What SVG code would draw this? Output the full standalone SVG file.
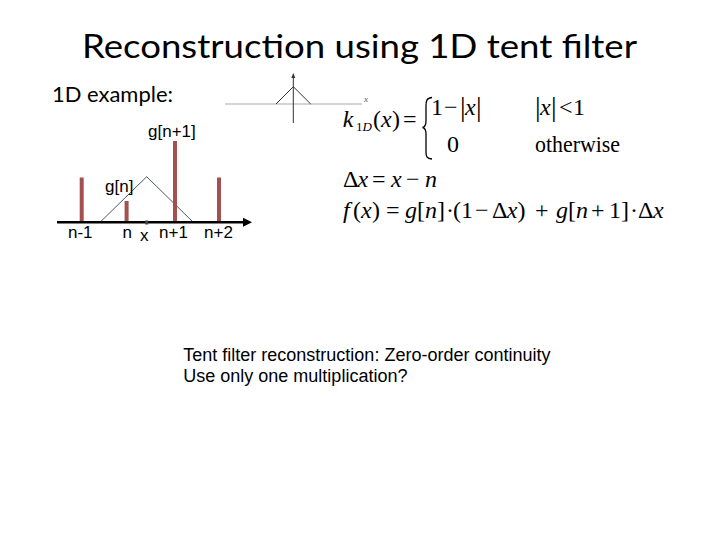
<svg xmlns="http://www.w3.org/2000/svg" width="720" height="540" viewBox="0 0 720 540">
<style>
.title{font-family:Lato,"Open Sans","Liberation Sans",sans-serif;fill:#000}
.lab{font-family:"Liberation Sans",Arial,sans-serif;font-size:17px;fill:#000}
.body{font-family:"Liberation Sans",Arial,sans-serif;font-size:18px;fill:#000}
.eq{font-family:"Liberation Serif","Times New Roman",serif;font-size:24px;fill:#000}
.it{font-style:italic}
.bar{fill:#a3504f}
.tent{fill:none;stroke:#4d5a63;stroke-width:1}
.abs{font-size:28px}
</style>
<rect width="720" height="540" fill="#fff"/>
<g id="title">
<text class="title" x="82" y="58" font-size="32" textLength="555" lengthAdjust="spacingAndGlyphs">Reconstruction using 1D tent filter</text>
</g>
<g id="subtitle">
<text class="title" x="52" y="102" font-size="21" textLength="121" lengthAdjust="spacingAndGlyphs">1D example:</text>
</g>
<g id="kernel-plot">
<line x1="225" y1="104" x2="362" y2="104" stroke="#a8a8a8" stroke-width="1"/>
<line x1="293.3" y1="76" x2="293.3" y2="123" stroke="#333" stroke-width="1"/>
<polygon points="291.3,78 293.3,73 295.3,78" fill="#333"/>
<polyline points="276,104 293.3,86.7 310.7,104" fill="none" stroke="#333" stroke-width="1"/>
<text x="364" y="102" font-family="Liberation Serif,serif" font-style="italic" font-size="9" fill="#555">x</text>
</g>
<g id="samples-plot">
<g id="tent"><polyline class="tent" points="100,222.3 146.7,176.7 193.3,222.3"/></g>
<g id="bar-n-1"><rect class="bar" x="79.7" y="177.5" width="4" height="44.8"/></g>
<g id="bar-n"><rect class="bar" x="124.6" y="201" width="4" height="21.3"/></g>
<g id="bar-n1"><rect class="bar" x="173" y="141" width="4" height="81.3"/></g>
<g id="bar-n2"><rect class="bar" x="217" y="177.5" width="4" height="44.8"/></g>
<g id="axis">
<line x1="57" y1="222.3" x2="245" y2="222.3" stroke="#000" stroke-width="2.5"/>
<polygon points="243,217.8 252,222.3 243,226.8" fill="#000"/>
<rect x="145.2" y="220.5" width="3" height="4" fill="#444"/>
</g>
<text class="lab" x="148" y="137">g[n+1]</text>
<text class="lab" x="105" y="191.7">g[n]</text>
<text class="lab" x="68" y="238.3">n-1</text>
<text class="lab" x="122.5" y="238.3">n</text>
<text class="lab" x="140" y="240.7">x</text>
<text class="lab" x="159" y="238.3">n+1</text>
<text class="lab" x="204" y="238.3">n+2</text>
</g>
<g id="equation-kernel">
<text class="eq"><tspan class="it" x="342.7" y="126.7">k</tspan><tspan x="356" y="131" font-size="13">1</tspan><tspan class="it" x="362.5" y="131" font-size="13">D</tspan><tspan x="373" y="126.7">(</tspan><tspan class="it" x="381" y="126.7">x</tspan><tspan x="392" y="126.7">)</tspan><tspan x="403" y="126.7">=</tspan></text>
<path d="M432,97.5 C426.5,98 426,101 426,106 L426,121 C426,125 425,127 422.5,127.5 C425,128 426,130 426,134 L426,152 C426,156 426.5,158.5 432,159" fill="none" stroke="#000" stroke-width="1.3"/>
<text class="eq"><tspan x="431" y="115">1</tspan><tspan x="444" y="115">−</tspan><tspan class="abs" x="460" y="116">|</tspan><tspan class="it" x="465" y="115">x</tspan><tspan class="abs" x="476" y="116">|</tspan></text>
<text class="eq"><tspan class="abs" x="535" y="116">|</tspan><tspan class="it" x="540" y="115">x</tspan><tspan class="abs" x="551" y="116">|</tspan><tspan x="559" y="115">&lt;</tspan><tspan x="573" y="115">1</tspan></text>
<text class="eq" x="447" y="151.7">0</text>
<text class="eq" x="535" y="151.7" textLength="85" lengthAdjust="spacingAndGlyphs">otherwise</text>
</g>
<g id="equation-delta">
<text class="eq"><tspan x="343" y="186.7">Δ</tspan><tspan class="it" x="357.5" y="186.7">x</tspan><tspan x="372" y="186.7">=</tspan><tspan class="it" x="391" y="186.7">x</tspan><tspan x="406" y="186.7">−</tspan><tspan class="it" x="425" y="186.7">n</tspan></text>
</g>
<g id="equation-f">
<text class="eq"><tspan class="it" x="343" y="218">f</tspan><tspan x="353" y="218">(</tspan><tspan class="it" x="361" y="218">x</tspan><tspan x="372" y="218">)</tspan><tspan x="386" y="218">=</tspan><tspan class="it" x="405" y="218">g</tspan><tspan x="417" y="218">[</tspan><tspan class="it" x="425" y="218">n</tspan><tspan x="437" y="218">]</tspan><tspan x="446" y="218">·</tspan><tspan x="453" y="218">(</tspan><tspan x="461" y="218">1</tspan><tspan x="475" y="218">−</tspan><tspan x="492" y="218">Δ</tspan><tspan class="it" x="506.7" y="218">x</tspan><tspan x="517.5" y="218">)</tspan><tspan x="535" y="218">+</tspan><tspan class="it" x="556" y="218">g</tspan><tspan x="568" y="218">[</tspan><tspan class="it" x="576" y="218">n</tspan><tspan x="591" y="218">+</tspan><tspan x="609" y="218">1</tspan><tspan x="621" y="218">]</tspan><tspan x="630" y="218">·</tspan><tspan x="638" y="218">Δ</tspan><tspan class="it" x="653" y="218">x</tspan></text>
</g>
<g id="note">
<text class="body" x="183.3" y="360.5">Tent filter reconstruction: Zero-order continuity</text>
<text class="body" x="183.3" y="381.5">Use only one multiplication?</text>
</g>
</svg>
